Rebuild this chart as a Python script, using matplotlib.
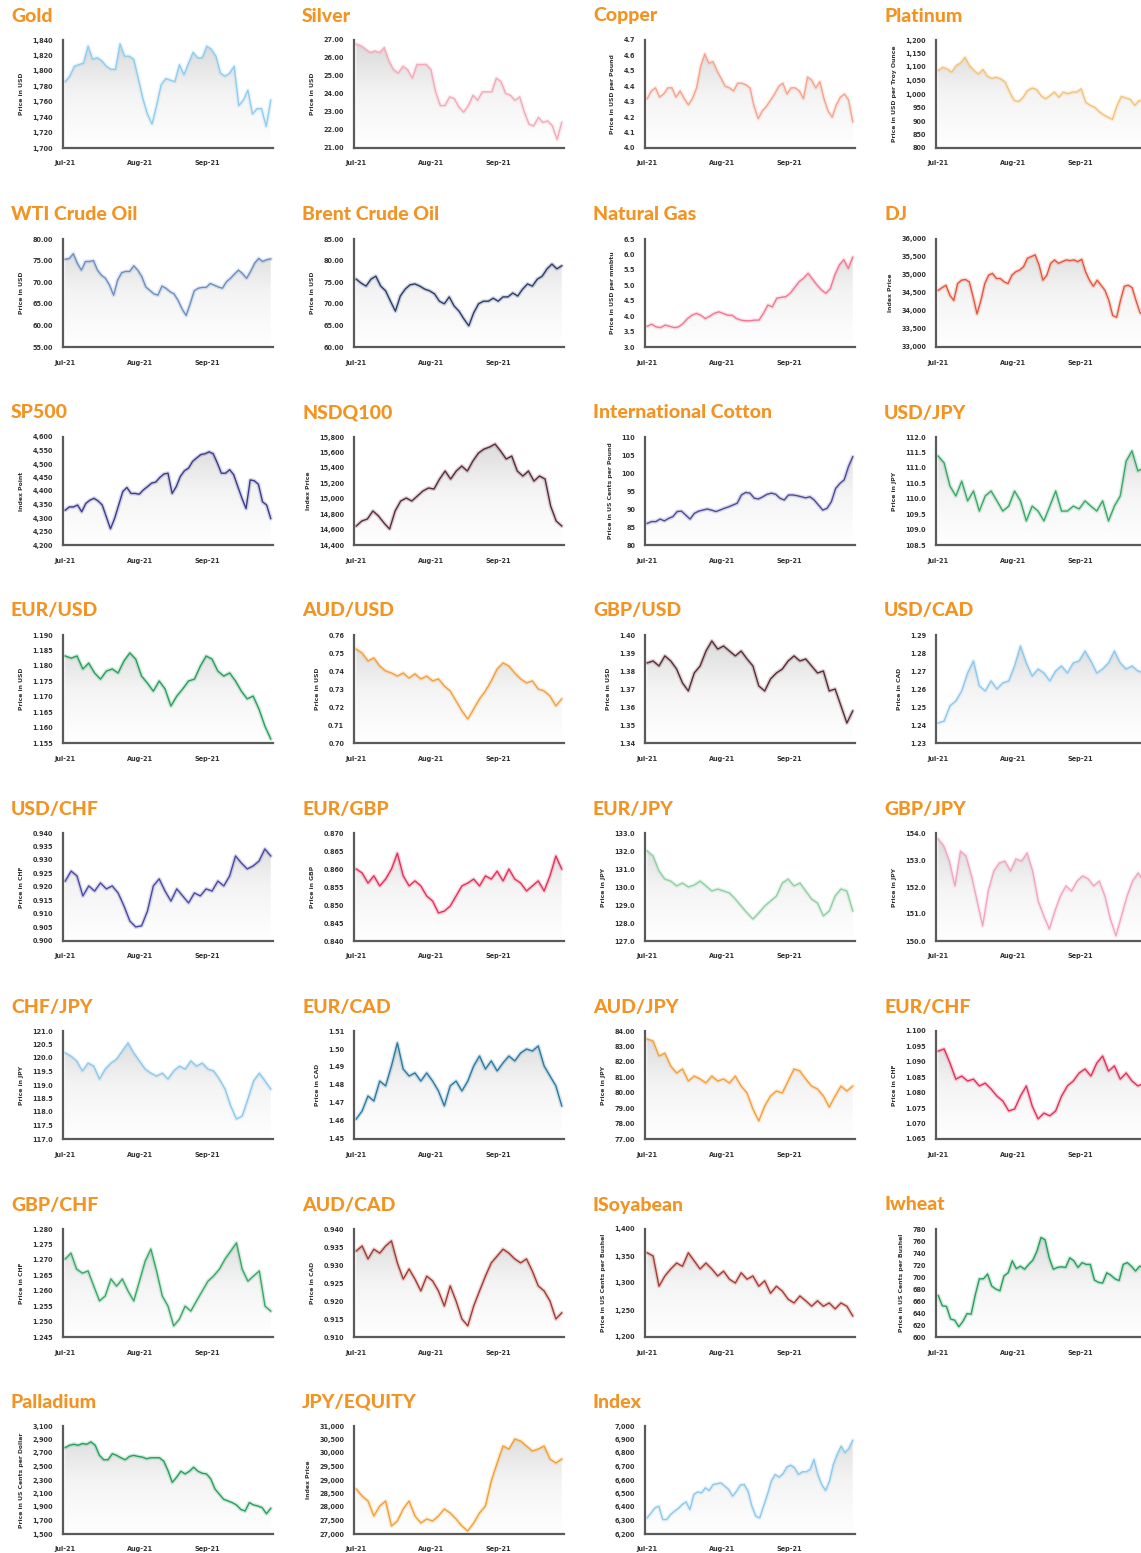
import numpy as np
import pandas as pd
import matplotlib
matplotlib.use("Agg")
import matplotlib.pyplot as plt
import matplotlib.dates as mdates
from matplotlib.colors import LinearSegmentedColormap

# ---- data (Jul-Sep 2021) ----
gold = [1786, 1793, 1806, 1808, 1810, 1832, 1815, 1817, 1813, 1806, 1802, 1802, 1835, 1819, 1819, 1815,
        1790, 1764, 1744, 1731, 1755, 1782, 1790, 1788, 1786, 1808, 1795, 1810, 1824, 1817, 1817, 1832,
        1828, 1819, 1797, 1793, 1797, 1806, 1755, 1762, 1775, 1744, 1751, 1751, 1728, 1762]
silver = [26.77, 26.68, 26.49, 26.3, 26.39, 26.3, 26.58, 25.83, 25.35, 25.16, 25.54, 25.35, 24.88, 25.64,
          25.64, 25.64, 25.35, 24.12, 23.36, 23.36, 23.84, 23.74, 23.27, 22.99, 23.36, 23.93, 23.65, 24.12,
          24.12, 24.12, 24.88, 24.69, 24.03, 23.93, 23.65, 23.84, 22.99, 22.32, 22.23, 22.7, 22.42, 22.51,
          22.23, 21.47, 22.42]
copper = [4.32, 4.37, 4.39, 4.33, 4.35, 4.39, 4.39, 4.33, 4.37, 4.32, 4.28, 4.32, 4.39, 4.53, 4.61, 4.55,
          4.56, 4.50, 4.45, 4.40, 4.39, 4.37, 4.42, 4.42, 4.41, 4.39, 4.27, 4.19, 4.24, 4.27, 4.31, 4.35,
          4.40, 4.42, 4.35, 4.39, 4.39, 4.37, 4.32, 4.46, 4.44, 4.39, 4.43, 4.32, 4.24, 4.20, 4.28, 4.33,
          4.35, 4.31, 4.17]
platinum = [1087, 1099, 1093, 1081, 1105, 1115, 1136, 1105, 1087, 1074, 1091, 1066, 1058, 1062, 1056, 1044,
            1007, 976, 972, 988, 1013, 1022, 1017, 994, 982, 994, 1007, 988, 1007, 1001, 1007, 1007, 1019,
            970, 958, 951, 935, 923, 914, 906, 956, 991, 985, 980, 958, 976, 970]
wti = [75.3, 75.5, 76.6, 74.4, 72.8, 74.8, 74.8, 75.0, 72.8, 71.6, 70.9, 69.3, 67.0, 70.5, 72.2, 72.5, 72.5,
       73.8, 72.8, 71.3, 68.9, 68.1, 67.3, 67.0, 69.1, 68.6, 67.8, 67.3, 65.8, 63.8, 62.3, 65.0, 68.0, 68.6,
       68.8, 68.8, 69.7, 69.3, 68.9, 68.6, 70.1, 70.9, 71.9, 72.8, 72.0, 70.9, 72.5, 74.4, 75.5, 74.8, 75.2,
       75.4]
brent = [75.7, 74.8, 74.1, 75.7, 76.4, 74.1, 73.0, 70.6, 68.3, 71.8, 73.4, 74.4, 74.6, 74.1, 73.4, 73.0,
         72.3, 70.6, 70.0, 71.6, 69.5, 68.3, 66.5, 64.9, 67.9, 70.0, 70.6, 70.6, 71.3, 70.6, 71.6, 71.6,
         72.5, 71.8, 73.4, 74.6, 74.1, 75.7, 76.4, 78.1, 79.2, 78.1, 78.8]
natgas = [3.67, 3.74, 3.65, 3.63, 3.71, 3.67, 3.63, 3.65, 3.76, 3.92, 4.03, 4.09, 4.03, 3.92, 4.0, 4.09,
          4.14, 4.09, 4.03, 4.03, 3.92, 3.87, 3.85, 3.85, 3.87, 3.87, 4.09, 4.36, 4.30, 4.58, 4.61, 4.63,
          4.74, 4.93, 5.12, 5.23, 5.39, 5.20, 5.01, 4.85, 4.74, 4.90, 5.34, 5.66, 5.83, 5.55, 5.91]
dj = [34575, 34650, 34716, 34434, 34294, 34763, 34856, 34875, 34810, 34388, 33919, 34294, 34763, 34997,
      35044, 34903, 34903, 34810, 34763, 34997, 35091, 35138, 35231, 35466, 35513, 35560, 35278, 34856,
      34997, 35325, 35419, 35325, 35372, 35419, 35400, 35419, 35372, 35438, 35091, 34856, 34688, 34856,
      34716, 34575, 34294, 33872, 33825, 34294, 34688, 34716, 34650, 34294, 33966, 33850]
sp500 = [4329, 4341, 4341, 4348, 4323, 4354, 4366, 4373, 4363, 4348, 4304, 4260, 4298, 4348, 4398, 4413,
         4391, 4391, 4388, 4404, 4416, 4429, 4433, 4450, 4463, 4466, 4391, 4416, 4454, 4475, 4485, 4510,
         4523, 4535, 4538, 4545, 4538, 4504, 4466, 4466, 4479, 4460, 4416, 4373, 4335, 4441, 4438, 4425,
         4360, 4348, 4298]
nsdq = [14646, 14711, 14737, 14841, 14776, 14685, 14607, 14841, 14970, 15009, 14970, 15035, 15100, 15139,
        15126, 15255, 15359, 15255, 15359, 15424, 15359, 15489, 15592, 15644, 15670, 15709, 15618, 15515,
        15553, 15359, 15294, 15359, 15229, 15294, 15255, 14905, 14711, 14646]
cotton = [86.0, 86.5, 86.5, 87.2, 86.7, 87.4, 87.9, 89.3, 89.4, 88.3, 87.2, 88.8, 89.4, 89.7, 90.0, 89.7,
          89.3, 89.7, 90.2, 90.6, 91.1, 91.6, 93.9, 94.6, 94.4, 93.0, 92.8, 93.4, 94.1, 94.4, 94.1, 93.0,
          92.5, 93.9, 93.9, 93.7, 93.4, 93.1, 93.4, 92.5, 91.1, 89.7, 90.2, 92.0, 95.7, 97.1, 98.1, 101.8,
          104.5]
usdjpy = [111.38, 111.16, 110.41, 110.09, 110.57, 109.93, 110.25, 109.60, 110.09, 110.25, 109.93, 109.60,
          109.76, 110.25, 109.93, 109.28, 109.76, 109.60, 109.28, 109.76, 110.25, 109.60, 109.60, 109.76,
          109.67, 109.93, 109.76, 109.60, 109.93, 109.28, 109.76, 110.09, 111.22, 111.55, 110.90, 111.0]
eurusd = [1.1832, 1.1825, 1.1832, 1.1790, 1.1809, 1.1777, 1.1757, 1.1783, 1.1790, 1.1777, 1.1816, 1.1842,
          1.1822, 1.1767, 1.1744, 1.1718, 1.1751, 1.1725, 1.1670, 1.1702, 1.1725, 1.1751, 1.1757, 1.1799,
          1.1832, 1.1822, 1.1783, 1.1767, 1.1777, 1.1751, 1.1718, 1.1693, 1.1702, 1.1660, 1.1605, 1.1563]
audusd = [0.7522, 0.7500, 0.7456, 0.7473, 0.7428, 0.7400, 0.7389, 0.7372, 0.7389, 0.7361, 0.7384, 0.7356,
          0.7372, 0.7345, 0.7356, 0.7317, 0.7289, 0.7234, 0.7178, 0.7133, 0.7189, 0.7245, 0.7289, 0.7345,
          0.7411, 0.7445, 0.7428, 0.7389, 0.7356, 0.7334, 0.7345, 0.7300, 0.7289, 0.7261, 0.7206, 0.7245]
gbpusd = [1.3845, 1.3856, 1.3828, 1.3884, 1.3856, 1.3811, 1.3734, 1.3689, 1.3789, 1.3828, 1.3911, 1.3967,
          1.3922, 1.3939, 1.3911, 1.3884, 1.3911, 1.3867, 1.3828, 1.3717, 1.3689, 1.3756, 1.3789, 1.3811,
          1.3856, 1.3884, 1.3856, 1.3867, 1.3828, 1.3789, 1.3800, 1.3689, 1.3700, 1.3606, 1.3511, 1.3578]
usdcad = [1.2411, 1.2422, 1.2506, 1.2534, 1.2589, 1.2689, 1.2756, 1.2617, 1.2589, 1.2645, 1.2600, 1.2634,
          1.2645, 1.2728, 1.2839, 1.2745, 1.2672, 1.2711, 1.2689, 1.2645, 1.2700, 1.2728, 1.2689, 1.2745,
          1.2756, 1.2811, 1.2756, 1.2689, 1.2711, 1.2745, 1.2811, 1.2745, 1.2711, 1.2728, 1.2700, 1.2690]
usdchf = [0.9222, 0.9259, 0.9241, 0.9167, 0.9204, 0.9185, 0.9215, 0.9193, 0.9204, 0.9178, 0.9130, 0.9074,
          0.9052, 0.9056, 0.9111, 0.9204, 0.9230, 0.9185, 0.9148, 0.9193, 0.9167, 0.9141, 0.9178, 0.9167,
          0.9193, 0.9185, 0.9222, 0.9204, 0.9241, 0.9315, 0.9289, 0.9267, 0.9278, 0.9296, 0.9341, 0.9315]
eurgbp = [0.8600, 0.8589, 0.8561, 0.8581, 0.8553, 0.8572, 0.8600, 0.8644, 0.8581, 0.8553, 0.8567, 0.8553,
          0.8525, 0.8511, 0.8478, 0.8483, 0.8497, 0.8525, 0.8553, 0.8561, 0.8572, 0.8553, 0.8581, 0.8572,
          0.8594, 0.8567, 0.8600, 0.8572, 0.8561, 0.8539, 0.8553, 0.8567, 0.8539, 0.8581, 0.8636, 0.8600]
eurjpy = [132.0, 131.72, 130.89, 130.44, 130.33, 130.06, 130.22, 130.0, 130.11, 130.33, 130.06, 129.78,
          129.89, 129.78, 129.67, 129.33, 128.94, 128.56, 128.22, 128.56, 128.94, 129.22, 129.5, 130.22,
          130.44, 130.06, 130.22, 129.78, 129.33, 129.11, 128.39, 128.67, 129.5, 129.89, 129.78, 128.67]
gbpjpy = [153.78, 153.52, 152.96, 152.04, 153.33, 153.15, 152.41, 151.48, 150.56, 151.85, 152.59, 152.89,
          152.96, 152.59, 153.04, 152.96, 153.26, 152.59, 151.48, 150.93, 150.44, 151.11, 151.67, 152.04,
          151.85, 152.22, 152.41, 152.30, 152.04, 152.22, 151.67, 150.81, 150.19, 150.93, 151.67, 152.22,
          152.52, 152.22]
chfjpy = [120.19, 120.07, 119.89, 119.52, 119.81, 119.70, 119.22, 119.59, 119.81, 119.96, 120.26, 120.56,
          120.19, 119.89, 119.59, 119.44, 119.33, 119.44, 119.22, 119.52, 119.70, 119.59, 119.89, 119.70,
          119.81, 119.59, 119.52, 119.22, 118.85, 118.22, 117.74, 117.85, 118.48, 119.15, 119.44, 119.15,
          118.85]
eurcad = [1.4611, 1.4656, 1.4739, 1.4711, 1.4822, 1.4795, 1.4906, 1.5034, 1.4889, 1.4850, 1.4867, 1.4822,
          1.4867, 1.4822, 1.4767, 1.4684, 1.4795, 1.4822, 1.4767, 1.4822, 1.4906, 1.4961, 1.4889, 1.4934,
          1.4878, 1.4923, 1.4961, 1.4934, 1.4978, 1.5000, 1.4989, 1.5017, 1.4906, 1.4850, 1.4795, 1.4684]
audjpy = [83.48, 83.35, 82.38, 82.57, 81.73, 81.28, 81.54, 80.76, 81.08, 80.89, 80.63, 81.08, 80.76, 80.89,
          80.63, 81.08, 80.43, 79.98, 78.94, 78.17, 79.14, 79.79, 80.11, 79.98, 80.76, 81.54, 81.41, 80.89,
          80.43, 80.24, 79.79, 79.07, 79.79, 80.43, 80.11, 80.43]
eurchf = [1.0935, 1.0942, 1.0896, 1.0844, 1.0854, 1.0838, 1.0844, 1.0822, 1.0831, 1.0812, 1.0789, 1.0773,
          1.0741, 1.0747, 1.0789, 1.0822, 1.0757, 1.0715, 1.0734, 1.0725, 1.0741, 1.0789, 1.0822, 1.0838,
          1.0864, 1.0877, 1.0854, 1.0896, 1.0919, 1.0870, 1.0887, 1.0844, 1.0864, 1.0838, 1.0822, 1.0830]
gbpchf = [1.2703, 1.2722, 1.2670, 1.2657, 1.2664, 1.2615, 1.2567, 1.2583, 1.2638, 1.2615, 1.2638, 1.2599,
          1.2567, 1.2631, 1.2696, 1.2735, 1.2664, 1.2583, 1.2550, 1.2486, 1.2508, 1.2550, 1.2534, 1.2567,
          1.2599, 1.2631, 1.2648, 1.2670, 1.2703, 1.2729, 1.2755, 1.2670, 1.2631, 1.2648, 1.2664, 1.2550,
          1.2534]
audcad = [0.9339, 0.9353, 0.9317, 0.9344, 0.9333, 0.9353, 0.9367, 0.9306, 0.9261, 0.9289, 0.9261, 0.9228,
          0.9269, 0.9256, 0.9228, 0.9186, 0.9242, 0.9200, 0.9150, 0.9131, 0.9186, 0.9228, 0.9269, 0.9306,
          0.9325, 0.9344, 0.9333, 0.9317, 0.9306, 0.9317, 0.9283, 0.9242, 0.9228, 0.9200, 0.9150, 0.9167]
soybean = [1356, 1350, 1294, 1313, 1326, 1337, 1331, 1356, 1341, 1326, 1337, 1326, 1313, 1322, 1307, 1300,
           1319, 1307, 1313, 1294, 1304, 1281, 1294, 1285, 1270, 1263, 1276, 1267, 1257, 1267, 1257, 1263,
           1252, 1263, 1257, 1239]
wheat = [669, 652, 651, 630, 628, 617, 626, 639, 638, 670, 697, 697, 705, 685, 680, 677, 702, 707, 727, 714,
         718, 713, 721, 728, 743, 766, 762, 732, 713, 716, 717, 716, 732, 727, 716, 724, 721, 721, 695, 691,
         690, 707, 703, 697, 694, 721, 724, 718, 710, 718, 715]
palladium = [2780, 2815, 2830, 2815, 2840, 2830, 2865, 2815, 2665, 2600, 2600, 2690, 2665, 2630, 2600, 2650,
             2665, 2650, 2640, 2615, 2630, 2630, 2630, 2580, 2440, 2265, 2340, 2430, 2390, 2430, 2490, 2430,
             2400, 2390, 2315, 2165, 2090, 2015, 1990, 1965, 1930, 1865, 1840, 1965, 1930, 1915, 1890, 1800,
             1880]
jpyequity = [28667, 28407, 28222, 27667, 28037, 28222, 27296, 27481, 27926, 28222, 27667, 27407, 27556, 27481,
             27667, 27926, 27778, 27556, 27296, 27111, 27407, 27778, 28037, 28963, 29630, 30259, 30148, 30519,
             30444, 30259, 30074, 30148, 30259, 29778, 29630, 29778]
index = [6320, 6356, 6394, 6406, 6307, 6307, 6344, 6369, 6389, 6418, 6438, 6381, 6493, 6512, 6505, 6542, 6522,
         6567, 6572, 6579, 6554, 6530, 6480, 6517, 6562, 6567, 6517, 6406, 6332, 6319, 6406, 6493, 6592, 6641,
         6621, 6646, 6696, 6710, 6691, 6641, 6661, 6661, 6678, 6752, 6641, 6567, 6522, 6592, 6715, 6790, 6851,
         6802, 6834, 6894]

# y tick values per panel
gold_ticks = [1700, 1720, 1740, 1760, 1780, 1800, 1820, 1840]
silver_ticks = [21, 22, 23, 24, 25, 26, 27]
copper_ticks = [4.0, 4.1, 4.2, 4.3, 4.4, 4.5, 4.6, 4.7]
platinum_ticks = [800, 850, 900, 950, 1000, 1050, 1100, 1150, 1200]
wti_ticks = [55, 60, 65, 70, 75, 80]
brent_ticks = [60, 65, 70, 75, 80, 85]
natgas_ticks = [3.0, 3.5, 4.0, 4.5, 5.0, 5.5, 6.0, 6.5]
dj_ticks = [33000, 33500, 34000, 34500, 35000, 35500, 36000]
sp500_ticks = [4200, 4250, 4300, 4350, 4400, 4450, 4500, 4550, 4600]
nsdq_ticks = [14400, 14600, 14800, 15000, 15200, 15400, 15600, 15800]
cotton_ticks = [80, 85, 90, 95, 100, 105, 110]
usdjpy_ticks = [108.5, 109.0, 109.5, 110.0, 110.5, 111.0, 111.5, 112.0]
eurusd_ticks = [1.155, 1.160, 1.165, 1.170, 1.175, 1.180, 1.185, 1.190]
audusd_ticks = [0.70, 0.71, 0.72, 0.73, 0.74, 0.75, 0.76]
gbpusd_ticks = [1.34, 1.35, 1.36, 1.37, 1.38, 1.39, 1.40]
usdcad_ticks = [1.23, 1.24, 1.25, 1.26, 1.27, 1.28, 1.29]
usdchf_ticks = [0.900, 0.905, 0.910, 0.915, 0.920, 0.925, 0.930, 0.935, 0.940]
eurgbp_ticks = [0.840, 0.845, 0.850, 0.855, 0.860, 0.865, 0.870]
eurjpy_ticks = [127.0, 128.0, 129.0, 130.0, 131.0, 132.0, 133.0]
gbpjpy_ticks = [150.0, 151.0, 152.0, 153.0, 154.0]
chfjpy_ticks = [117.0, 117.5, 118.0, 118.5, 119.0, 119.5, 120.0, 120.5, 121.0]
eurcad_ticks = [1.45, 1.46, 1.47, 1.48, 1.49, 1.50, 1.51]
audjpy_ticks = [77, 78, 79, 80, 81, 82, 83, 84]
eurchf_ticks = [1.065, 1.070, 1.075, 1.080, 1.085, 1.090, 1.095, 1.100]
gbpchf_ticks = [1.245, 1.250, 1.255, 1.260, 1.265, 1.270, 1.275, 1.280]
audcad_ticks = [0.910, 0.915, 0.920, 0.925, 0.930, 0.935, 0.940]
soybean_ticks = [1200, 1250, 1300, 1350, 1400]
wheat_ticks = [600, 620, 640, 660, 680, 700, 720, 740, 760, 780]
palladium_ticks = [1500, 1700, 1900, 2100, 2300, 2500, 2700, 2900, 3100]
jpyequity_ticks = [27000, 27500, 28000, 28500, 29000, 29500, 30000, 30500, 31000]
index_ticks = [6200, 6300, 6400, 6500, 6600, 6700, 6800, 6900, 7000]

month_labels = ["Jul-21", "Aug-21", "Sep-21"]
month_dates = ["2021-07-01", "2021-08-03", "2021-09-02"]

# title, values, ticks, tick format, y label, line colour
panels = [
    ("Gold", gold, gold_ticks, "{:,.0f}", "Price in USD", "#8ecdf0"),
    ("Silver", silver, silver_ticks, "{:.2f}", "Price in USD", "#f4a9b8"),
    ("Copper", copper, copper_ticks, "{:.1f}", "Price in USD per Pound", "#f5a48c"),
    ("Platinum", platinum, platinum_ticks, "{:,.0f}", "Price in USD per Troy Ounce", "#f5c276"),
    ("WTI Crude Oil", wti, wti_ticks, "{:.2f}", "Price in USD", "#6b8fc4"),
    ("Brent Crude Oil", brent, brent_ticks, "{:.2f}", "Price in USD", "#2b3d6e"),
    ("Natural Gas", natgas, natgas_ticks, "{:.1f}", "Price in USD per mmbtu", "#f07895"),
    ("DJ", dj, dj_ticks, "{:,.0f}", "Index Price", "#e4573e"),
    ("SP500", sp500, sp500_ticks, "{:,.0f}", "Index Point", "#3b3b8f"),
    ("NSDQ100", nsdq, nsdq_ticks, "{:,.0f}", "Index Price", "#5b2b38"),
    ("International Cotton", cotton, cotton_ticks, "{:.0f}", "Price in US Cents per Pound", "#4c4c9c"),
    ("USD/JPY", usdjpy, usdjpy_ticks, "{:.1f}", "Price in JPY", "#3aa866"),
    ("EUR/USD", eurusd, eurusd_ticks, "{:.3f}", "Price in USD", "#27a05c"),
    ("AUD/USD", audusd, audusd_ticks, "{:.2f}", "Price in USD", "#f2a03c"),
    ("GBP/USD", gbpusd, gbpusd_ticks, "{:.2f}", "Price in USD", "#5a2c34"),
    ("USD/CAD", usdcad, usdcad_ticks, "{:.2f}", "Price in CAD", "#8cc9ec"),
    ("USD/CHF", usdchf, usdchf_ticks, "{:.3f}", "Price in CHF", "#4a49a3"),
    ("EUR/GBP", eurgbp, eurgbp_ticks, "{:.3f}", "Price in GBP", "#e2315c"),
    ("EUR/JPY", eurjpy, eurjpy_ticks, "{:.1f}", "Price in JPY", "#8fd0a2"),
    ("GBP/JPY", gbpjpy, gbpjpy_ticks, "{:.1f}", "Price in JPY", "#f2a6bd"),
    ("CHF/JPY", chfjpy, chfjpy_ticks, "{:.1f}", "Price in JPY", "#8cc9ec"),
    ("EUR/CAD", eurcad, eurcad_ticks, "{:.2f}", "Price in CAD", "#2b7ba3"),
    ("AUD/JPY", audjpy, audjpy_ticks, "{:.2f}", "Price in JPY", "#f2a03c"),
    ("EUR/CHF", eurchf, eurchf_ticks, "{:.3f}", "Price in CHF", "#e2315c"),
    ("GBP/CHF", gbpchf, gbpchf_ticks, "{:.3f}", "Price in CHF", "#3aa866"),
    ("AUD/CAD", audcad, audcad_ticks, "{:.3f}", "Price in CAD", "#a33b31"),
    ("ISoyabean", soybean, soybean_ticks, "{:,.0f}", "Price in US Cents per Bushel", "#a83b31"),
    ("Iwheat", wheat, wheat_ticks, "{:.0f}", "Price in US Cents per Bushel", "#27a05c"),
    ("Palladium", palladium, palladium_ticks, "{:,.0f}", "Price in US Cents per Dollar", "#27a05c"),
    ("JPY/EQUITY", jpyequity, jpyequity_ticks, "{:,.0f}", "Index Price", "#f2a030"),
    ("Index", index, index_ticks, "{:,.0f}", "", "#8cc9ec"),
]

W, H = 1141, 1553
fig = plt.figure(figsize=(W / 100, H / 100), dpi=100)
fig.patch.set_facecolor("white")

col_x = [0, 291, 582, 873]
row_y = [0, 199, 397, 595, 793, 991, 1189, 1386]
orange = "#f39322"
grey_cmap = LinearSegmentedColormap.from_list("fade", ["#ffffff", "#f4f4f4", "#d9d9d9"])

x_start = pd.Timestamp("2021-06-30")
x_end = pd.Timestamp("2021-10-01")
tick_pos = pd.to_datetime(month_dates)

for i, (title, vals, ticks, fmt, ylab, color) in enumerate(panels):
    x0 = col_x[i % 4]
    y0 = row_y[i // 4]
    fig.text((x0 + 11) / W, 1 - (y0 + 16) / H, title, color=orange, fontsize=14,
             fontweight="black", family="Lato", va="center", ha="left")

    ax = fig.add_axes([(x0 + 63) / W, 1 - (y0 + 148) / H, 210 / W, 108 / H])
    dates = pd.date_range("2021-07-01", "2021-09-30", periods=len(vals))
    lo, hi = ticks[0], ticks[-1]
    ax.set_xlim(x_start, x_end)
    ax.set_ylim(lo, hi)

    # gradient fill under the line
    poly = ax.fill_between(dates, vals, lo, color="none", lw=0)
    grad = np.linspace(0, 1, 256).reshape(-1, 1)
    im = ax.imshow(grad, extent=[mdates.date2num(x_start), mdates.date2num(x_end), lo, hi],
                   origin="lower", aspect="auto", cmap=grey_cmap, zorder=1)
    im.set_clip_path(poly.get_paths()[0], transform=ax.transData)

    ax.plot(dates, vals, color=color, lw=3.0, alpha=0.2, zorder=2, solid_capstyle="round")
    ax.plot(dates, vals, color=color, lw=1.0, zorder=3)

    ax.set_yticks(ticks)
    ax.set_yticklabels([fmt.format(t) for t in ticks])
    ax.set_xticks(tick_pos)
    ax.set_xticklabels(month_labels)
    ax.tick_params(length=0, labelsize=4.7, colors="#333333", pad=7)
    ax.tick_params(axis="x", pad=9)
    for lab in ax.get_xticklabels() + ax.get_yticklabels():
        lab.set_fontweight("bold")
    ax.set_ylabel(ylab, fontsize=4.4, fontweight="bold", color="#333333", labelpad=6)

    for s in ["top", "right"]:
        ax.spines[s].set_visible(False)
    for s in ["left", "bottom"]:
        ax.spines[s].set_color("#5a5a5a")
        ax.spines[s].set_linewidth(1.6)
    ax.set_facecolor("none")

fig.savefig("out.png", dpi=100)
